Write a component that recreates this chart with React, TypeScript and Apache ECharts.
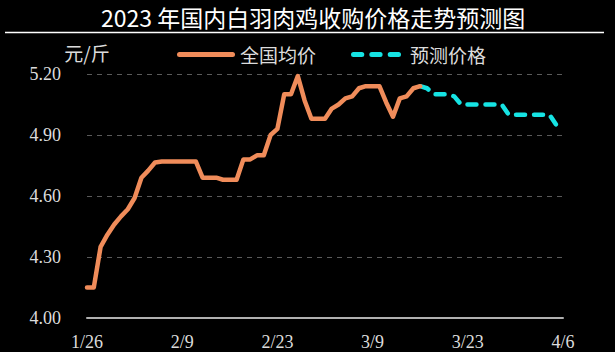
import React, { useEffect, useRef } from "react";
import * as echarts from "echarts";

const titleText = "2023 年国内白羽肉鸡收购价格走势预测图";
const unitName = "元/斤";
const seriesNames = ["全国均价", "预测价格"];

const dates = [
  "1/26", "1/27", "1/28", "1/29", "1/30", "1/31",
  "2/1", "2/2", "2/3", "2/4", "2/5", "2/6", "2/7", "2/8", "2/9", "2/10",
  "2/11", "2/12", "2/13", "2/14", "2/15", "2/16", "2/17", "2/18", "2/19", "2/20",
  "2/21", "2/22", "2/23", "2/24", "2/25", "2/26", "2/27", "2/28",
  "3/1", "3/2", "3/3", "3/4", "3/5", "3/6", "3/7", "3/8", "3/9", "3/10",
  "3/11", "3/12", "3/13", "3/14", "3/15", "3/16", "3/17", "3/18", "3/19", "3/20",
  "3/21", "3/22", "3/23", "3/24", "3/25", "3/26", "3/27", "3/28", "3/29", "3/30", "3/31",
  "4/1", "4/2", "4/3", "4/4", "4/5", "4/6",
];

// 全国均价 (1/26 - 3/16)
const actualPrices = [
  4.15, 4.15, 4.35, 4.41, 4.46, 4.50, 4.535, 4.59, 4.69, 4.725,
  4.765, 4.77, 4.77, 4.77, 4.77, 4.77, 4.77, 4.69, 4.69, 4.69,
  4.68, 4.68, 4.68, 4.78, 4.78, 4.80, 4.80, 4.90, 4.93, 5.10,
  5.10, 5.19, 5.07, 4.98, 4.98, 4.98, 5.03, 5.05, 5.08, 5.09,
  5.13, 5.14, 5.14, 5.14, 5.06, 4.99, 5.08, 5.09, 5.13, 5.14,
];

// 预测价格 (3/16 - 4/6)
const forecastStart = 49;
const forecastPrices = [
  5.14, 5.13, 5.10, 5.10, 5.10, 5.09, 5.05, 5.05, 5.05, 5.05, 5.05,
  5.05, 5.05, 5.00, 5.00, 5.00, 5.00, 5.00, 5.00, 5.00, 4.95, 4.95,
];

const yMin = 4.0;
const yMax = 5.2;
const yStep = 0.3;

const solidIcon = "path://M2.5,0H55.5A2.5,2.5,0,0,1,55.5,5H2.5A2.5,2.5,0,0,1,2.5,0Z";
const dashedIcon =
  "path://M2.5,0H10.8A2.5,2.5,0,0,1,10.8,5H2.5A2.5,2.5,0,0,1,2.5,0Z" +
  "M20.8,0H29.1A2.5,2.5,0,0,1,29.1,5H20.8A2.5,2.5,0,0,1,20.8,0Z" +
  "M39.2,0H47.5A2.5,2.5,0,0,1,47.5,5H39.2A2.5,2.5,0,0,1,39.2,0Z";

export default function App() {
  const ref = useRef<HTMLDivElement>(null);

  useEffect(() => {
    if (!ref.current) return;
    const chart = echarts.init(ref.current, undefined, { renderer: "svg" });

    const actualData = dates.map((_, i) => (i < actualPrices.length ? actualPrices[i] : null));
    const forecastData = dates.map((_, i) =>
      i >= forecastStart && i - forecastStart < forecastPrices.length ? forecastPrices[i - forecastStart] : null
    );

    const serif = "Liberation Serif";
    const cjk = "Noto Sans CJK SC";

    chart.setOption({
      animation: false,
      backgroundColor: "#000000",
      title: {
        text: titleText,
        left: 96,
        top: 0,
        textStyle: {
          color: "#ffffff",
          fontFamily: cjk,
          fontSize: 23,
          fontWeight: "normal",
        },
      },
      graphic: [
        {
          type: "line",
          shape: { x1: 5, y1: 32.5, x2: 604, y2: 32.5 },
          style: { stroke: "#ffffff", lineWidth: 1.5 },
        },
      ],
      legend: {
        left: 172,
        top: 40,
        itemWidth: 58,
        itemHeight: 5,
        itemGap: 35,
        data: [
          { name: seriesNames[0], icon: solidIcon },
          { name: seriesNames[1], icon: dashedIcon },
        ],
        textStyle: {
          color: "#dcdcdc",
          fontFamily: cjk,
          fontSize: 19,
        },
      },
      grid: {
        left: 87,
        right: 52,
        top: 74,
        bottom: 34,
        containLabel: false,
      },
      xAxis: {
        type: "category",
        data: dates,
        boundaryGap: false,
        axisLine: { lineStyle: { color: "#b0b0b0", width: 2 } },
        axisTick: { show: false },
        axisLabel: {
          interval: 13,
          margin: 15,
          color: "#dcdcdc",
          fontFamily: serif,
          fontSize: 18,
        },
        splitLine: { show: false },
      },
      yAxis: {
        type: "value",
        min: yMin,
        max: yMax,
        interval: yStep,
        name: unitName,
        nameLocation: "end",
        nameGap: 12,
        nameTextStyle: {
          color: "#dcdcdc",
          fontFamily: cjk,
          fontSize: 19,
          align: "center",
        },
        axisLine: { show: false },
        axisTick: { show: false },
        axisLabel: {
          margin: 26,
          color: "#dcdcdc",
          fontFamily: serif,
          fontSize: 18,
          formatter: (v: number) => v.toFixed(2),
        },
        splitLine: {
          lineStyle: { color: "#5a5a5a", type: [5, 5], width: 1 },
        },
      },
      series: [
        {
          name: seriesNames[0],
          type: "line",
          data: actualData,
          symbol: "none",
          lineStyle: { color: "#F08C5A", width: 4.5, cap: "round", join: "round" },
          itemStyle: { color: "#F08C5A" },
          z: 3,
        },
        {
          name: seriesNames[1],
          type: "line",
          data: forecastData,
          symbol: "none",
          lineStyle: { color: "#16E3E3", width: 4.5, type: [9, 9], cap: "round", join: "round" },
          itemStyle: { color: "#16E3E3" },
          z: 2,
        },
      ],
    });

    return () => chart.dispose();
  }, []);

  return (
    <div
      ref={ref}
      style={{ position: "fixed", left: 0, top: 0, width: 615, height: 352, background: "#000" }}
    />
  );
}
